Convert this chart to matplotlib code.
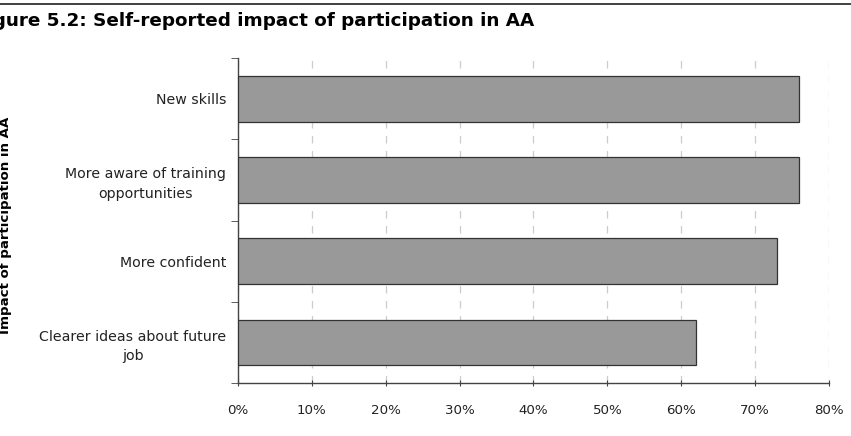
import matplotlib
matplotlib.use("Agg")
import matplotlib.pyplot as plt
from matplotlib.ticker import FixedLocator, PercentFormatter

# data (top to bottom)
categories = ["New skills", "More aware of training\nopportunities",
              "More confident", "Clearer ideas about future\njob"]
shares = [76, 76, 73, 62]
xticks = [0, 10, 20, 30, 40, 50, 60, 70, 80]

plt.rcParams["font.family"] = ["DejaVu Sans"]

fig = plt.figure(figsize=(8.51, 4.36), dpi=100)
ax = fig.add_axes([0.2797, 0.1216, 0.6944, 0.745])

ypos = list(range(len(categories)))[::-1]
ax.barh(ypos, shares, height=0.56, color="#999999", edgecolor="#333333",
        linewidth=0.9, zorder=3)

ax.set_xlim(0, 80)
ax.set_ylim(-0.5, len(categories) - 0.5)
ax.set_xticks(xticks)
ax.xaxis.set_major_formatter(PercentFormatter(decimals=0))
ax.set_yticks(ypos)
ax.set_yticklabels(categories, fontsize=10.2, color="#222222", multialignment="center",
                   linespacing=1.5)
ax.yaxis.set_minor_locator(FixedLocator([i - 0.5 for i in range(len(categories) + 1)]))
ax.tick_params(axis="y", which="major", length=0, pad=8.5)
ax.tick_params(axis="y", which="minor", length=5, direction="out", color="#444444")
ax.tick_params(axis="x", length=4, direction="inout", color="#444444",
               labelsize=9.6, labelcolor="#222222", pad=13)

ax.grid(axis="x", linestyle=(0, (6, 6)), color="#cccccc", linewidth=0.9, zorder=0)
for s in ["top", "right"]:
    ax.spines[s].set_visible(False)
for s in ["left", "bottom"]:
    ax.spines[s].set_color("#444444")
    ax.spines[s].set_linewidth(1.0)

fig.text(0.007, 0.484, "Impact of participation in AA", rotation=90,
         ha="center", va="center", fontsize=9.6, fontweight="bold")
fig.text(-0.031, 0.952, "Figure 5.2: Self-reported impact of participation in AA",
         ha="left", va="center", fontsize=13.2, fontweight="bold")
fig.add_artist(plt.Line2D([0, 1], [0.99, 0.99], color="#333333", linewidth=1.3,
                          transform=fig.transFigure))

fig.savefig("out.png", dpi=100)
